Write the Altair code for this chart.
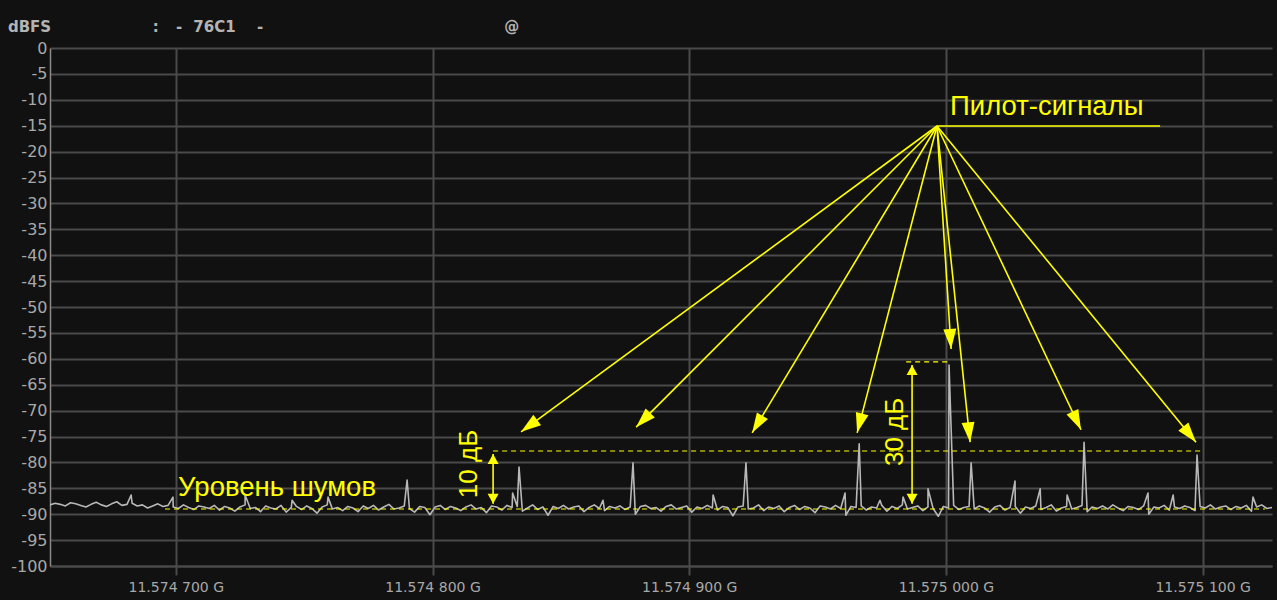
import math
import altair as alt
import pandas as pd

# ---------------- data (frequency in kHz offset from 11.574 700 GHz, level in dBFS) -------------
F_MIN, F_MAX = -49.0, 427.0
DB_MIN, DB_MAX = -100.0, 0.0
W, H = 1222, 518

tick_freqs = [0, 100, 200, 300, 400]
tick_labels = ["11.574 700 G", "11.574 800 G", "11.574 900 G", "11.575 000 G", "11.575 100 G"]
db_ticks = list(range(-100, 1, 5))

noise_start = -49.0
noise_step = 2.0
noise_db = [
    -88.2, -87.9, -88.1, -88.4, -87.8, -88.0, -88.3, -88.6, -88.1, -87.7,
    -88.2, -88.5, -88.0, -87.6, -88.3, -88.1, -87.9, -88.4, -88.2, -88.8,
    -88.4, -88.0, -88.5, -88.3, -88.6, -88.9, -88.2, -88.7, -89.1, -88.4,
    -88.6, -88.9, -88.3, -89.2, -88.5, -88.8, -89.4, -88.6, -88.2, -88.9,
    -88.7, -89.5, -88.4, -88.8, -89.0, -88.3, -89.6, -88.7, -88.5, -89.1,
    -88.4, -88.9, -89.8, -88.6, -88.2, -89.0, -88.7, -89.3, -88.5, -88.8,
    -89.5, -88.4, -88.9, -88.3, -89.2, -88.6, -88.1, -89.0, -88.8, -88.4,
    -88.9, -89.6, -88.5, -88.7, -90.1, -88.6, -88.3, -89.1, -88.5, -88.8,
    -89.3, -88.6, -88.2, -89.0, -88.7, -89.7, -88.4, -88.6, -89.2, -88.3,
    -88.7, -88.5, -89.4, -88.8, -88.2, -89.1, -88.6, -90.2, -88.5, -88.9,
    -88.3, -89.0, -88.6, -88.4, -89.5, -88.7, -88.2, -88.9, -89.3, -88.5,
    -88.8, -88.4, -89.1, -88.6, -90.0, -88.5, -88.3, -88.9, -88.7, -89.4,
    -88.5, -88.2, -89.0, -88.7, -88.4, -89.6, -88.6, -88.9, -88.3, -88.8,
    -89.2, -88.5, -88.7, -90.3, -88.6, -88.4, -89.0, -88.8, -88.2, -89.3,
    -88.6, -88.9, -88.4, -89.5, -88.7, -88.3, -89.1, -88.5, -88.8, -89.7,
    -88.4, -88.6, -89.0, -88.3, -88.9, -90.2, -88.5, -88.7, -88.4, -89.2,
    -88.6, -88.8, -88.3, -89.4, -88.5, -88.9, -88.2, -89.0, -88.7, -88.4,
    -89.3, -88.6, -88.9, -90.4, -88.5, -88.8, -88.3, -89.1, -88.7, -88.5,
    -89.0, -88.4, -88.8, -89.6, -88.6, -88.3, -89.2, -88.7, -88.5, -89.8,
    -88.6, -88.9, -88.4, -89.1, -88.7, -88.2, -89.4, -88.8, -88.5, -89.0,
    -88.7, -88.3, -89.5, -88.6, -88.9, -88.4, -89.0, -88.2, -88.8, -89.3,
    -88.5, -88.7, -89.1, -88.4, -90.0, -88.6, -88.8, -88.3, -89.2, -88.6,
    -88.9, -88.4, -88.7, -89.3, -88.5, -88.8, -88.2, -89.0, -88.6, -88.4,
    -89.1, -88.5, -88.8, -88.3, -89.4, -88.6, -88.2, -88.9, -88.7,
]

peak_freqs = [-17.4, -1.1, 27.0, 45.3, 59.3, 90.1, 131.2, 133.7, 166.4, 178.1,
              209.3, 222.1, 260.7, 266.2, 274.3, 283.3, 293.0, 301.2, 309.8,
              326.9, 336.7, 347.2, 353.8, 378.7, 388.5, 397.8, 419.6]
peak_db = [-86.3, -86.7, -86.3, -87.3, -86.7, -83.4, -85.9, -80.9, -87.3, -80.1,
           -86.3, -80.1, -85.9, -76.4, -87.3, -86.7, -85.1, -61.2, -80.1,
           -83.6, -85.1, -86.3, -76.1, -85.9, -86.3, -78.6, -86.7]

# annotation geometry (data units)
pilot_src_f, pilot_src_db = 296.5, -15.06
pilot_tip_f = [134.5, 179.3, 224.5, 265.4, 302.0, 309.4, 352.6, 397.4]
pilot_tip_db = [-74.1, -73.2, -74.3, -74.3, -58.1, -76.1, -73.7, -76.1]

underline_f = [296.5, 383.4]
underline_db = -15.06

dash_f1 = [-4.2, 123.6, 284.5]
dash_f2 = [424.3, 399.8, 302.0]
dash_db = [-89.0, -77.8, -60.6]

dbl_f = [123.6, 286.8]
dbl_top = [-78.4, -61.2]
dbl_bot = [-88.0, -88.0]

label_text = ["Пилот-сигналы", "Уровень шумов"]
label_f = [301.6, 0.9]
label_db = [-11.4, -84.9]

rot_text = ["10 дБ", "30 дБ"]
rot_f = [114.2, 280.2]
rot_db = [-80.3, -74.1]

header_text = ["dBFS", ":", "-", "76C1", "-", "@"]
header_f = [-65.4, -9.0, 0.1, 6.8, 31.6, 127.9]
header_db = 4.05

# ---------------- build tables ----------------
pts = [(noise_start + noise_step * i, v) for i, v in enumerate(noise_db)]
pts += list(zip(peak_freqs, peak_db))
pts.sort(key=lambda p: p[0])
trace = pd.DataFrame(pts, columns=["f", "db"])

KX = W / (F_MAX - F_MIN)
KY = H / (DB_MAX - DB_MIN)


def to_px(f, d):
    return ((f - F_MIN) * KX, (DB_MAX - d) * KY)


sx, sy = to_px(pilot_src_f, pilot_src_db)
arrows = []
for tf, td in zip(pilot_tip_f, pilot_tip_db):
    tx, ty = to_px(tf, td)
    ang = math.degrees(math.atan2(tx - sx, -(ty - sy))) % 360
    arrows.append({"f": pilot_src_f, "db": pilot_src_db, "f2": tf, "db2": td, "angle": ang})
arrows = pd.DataFrame(arrows)

dashes = pd.DataFrame({"f": dash_f1, "f2": dash_f2, "db": dash_db})
underline = pd.DataFrame({"f": [underline_f[0]], "f2": [underline_f[1]], "db": [underline_db]})
dbl = pd.DataFrame({"f": dbl_f, "top": dbl_top, "bot": dbl_bot})
heads_small = pd.DataFrame({
    "f": dbl_f + dbl_f,
    "db": dbl_top + dbl_bot,
    "angle": [0.0] * len(dbl_f) + [180.0] * len(dbl_f),
})
labels = pd.DataFrame({"t": label_text, "f": label_f, "db": label_db})
rlabels = pd.DataFrame({"t": rot_text, "f": rot_f, "db": rot_db})
header = pd.DataFrame({"t": header_text, "f": header_f, "db": [header_db] * len(header_text)})

YELLOW = "#ffff00"
GRID = "#4a4a4a"

label_expr = " : ".join(
    f"datum.value == {v} ? '{t}'" for v, t in zip(tick_freqs, tick_labels)
) + " : ''"

xscale = alt.Scale(domain=[F_MIN, F_MAX], nice=False, zero=False)
yscale = alt.Scale(domain=[DB_MIN, DB_MAX], nice=False, zero=False)

xaxis = alt.Axis(
    values=tick_freqs, labelExpr=label_expr, title=None, grid=True,
    gridColor=GRID, gridWidth=2, domainColor=GRID, domainWidth=2,
    tickColor=GRID, tickWidth=2, tickSize=9, labelColor="#a8a8a8",
    labelFont="DejaVu Sans", labelFontSize=14, labelPadding=5, labelOverlap=False)
yaxis = alt.Axis(
    values=db_ticks, labelExpr="'' + datum.value", title=None, grid=True,
    gridColor=GRID, gridWidth=2, domainColor="#8a8a8a", domainWidth=1.5,
    ticks=False, tickSize=0, labelColor="#a8a8a8", labelFont="DejaVu Sans",
    labelFontSize=16, labelPadding=3, labelOverlap=False)


def X(field):
    return alt.X(field, scale=xscale, axis=xaxis)


def Y(field):
    return alt.Y(field, scale=yscale, axis=yaxis)


base_line = alt.Chart(trace).mark_line(
    color="#b8b8b8", strokeWidth=1.6, clip=True, strokeJoin="round"
).encode(x=X("f:Q"), y=Y("db:Q"))

dash_layer = alt.Chart(dashes).mark_rule(color=YELLOW, strokeWidth=1.1, strokeDash=[5, 4]).encode(
    x=X("f:Q"), x2="f2:Q", y=Y("db:Q"))

underline_layer = alt.Chart(underline).mark_rule(color=YELLOW, strokeWidth=1.6).encode(
    x=X("f:Q"), x2="f2:Q", y=Y("db:Q"))

arrow_lines = alt.Chart(arrows).mark_rule(color=YELLOW, strokeWidth=1.6).encode(
    x=X("f:Q"), x2="f2:Q", y=Y("db:Q"), y2="db2:Q")

arrow_heads = alt.Chart(arrows).mark_point(
    shape="M0,0L-0.65,2L0.65,2Z", size=400, filled=True, color=YELLOW, opacity=1, strokeWidth=0
).encode(x=X("f2:Q"), y=Y("db2:Q"), angle=alt.Angle("angle:Q", scale=None))

dbl_lines = alt.Chart(dbl).mark_rule(color=YELLOW, strokeWidth=1.6).encode(
    x=X("f:Q"), y=Y("top:Q"), y2="bot:Q")

dbl_heads = alt.Chart(heads_small).mark_point(
    shape="M0,0L-1.1,2L1.1,2Z", size=100, filled=True, color=YELLOW, opacity=1, strokeWidth=0
).encode(x=X("f:Q"), y=Y("db:Q"), angle=alt.Angle("angle:Q", scale=None))

text_layer = alt.Chart(labels).mark_text(
    color=YELLOW, font="Liberation Sans", fontSize=27.5, align="left", baseline="middle"
).encode(x=X("f:Q"), y=Y("db:Q"), text="t:N")

rot_layer = alt.Chart(rlabels).mark_text(
    color=YELLOW, font="Liberation Sans", fontSize=26, align="center", baseline="middle", angle=270
).encode(x=X("f:Q"), y=Y("db:Q"), text="t:N")

header_layer = alt.Chart(header).mark_text(
    color="#b4b4b4", font="DejaVu Sans", fontSize=15, fontWeight="bold", align="left", baseline="middle"
).encode(x=X("f:Q"), y=Y("db:Q"), text="t:N")

chart = alt.layer(
    base_line, dash_layer, underline_layer, arrow_lines, arrow_heads,
    dbl_lines, dbl_heads, text_layer, rot_layer, header_layer,
).properties(
    width=W, height=H,
    padding={"left": 50, "top": 48, "right": 5, "bottom": 34},
    autosize=alt.AutoSizeParams(type="none"),
    background="#111111",
).configure_view(stroke=None)

chart.save("out.html", embed_options={"renderer": "svg", "actions": False})
